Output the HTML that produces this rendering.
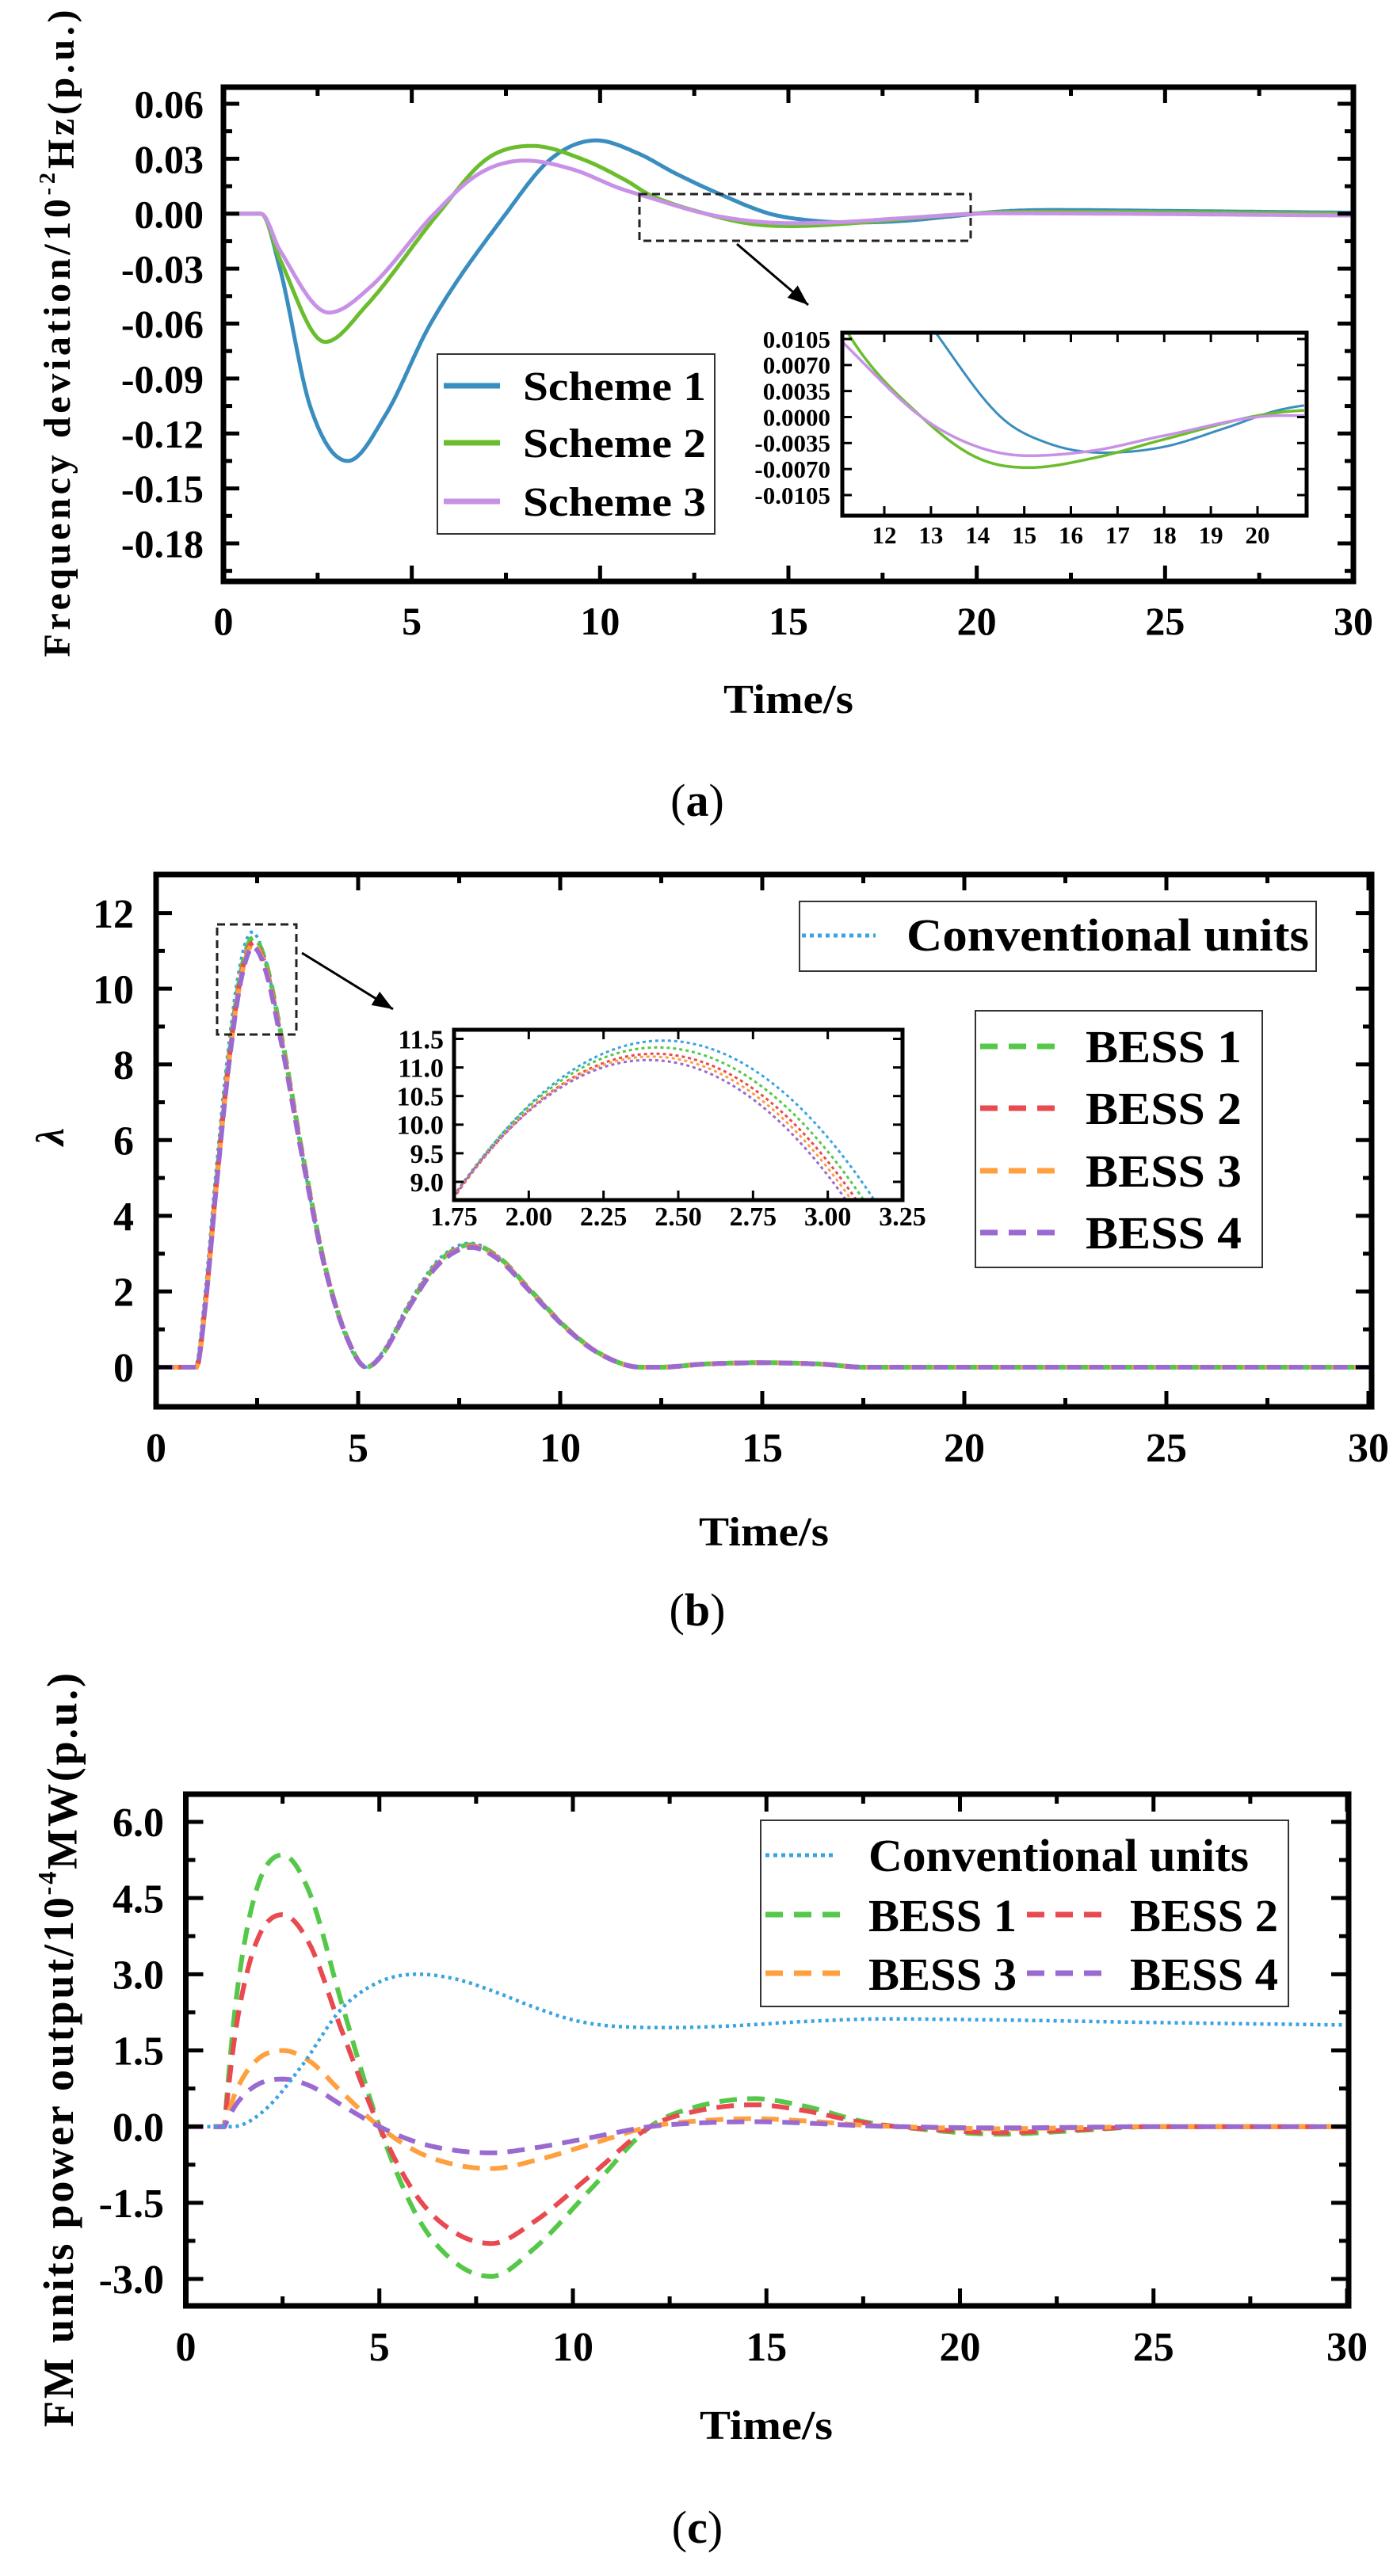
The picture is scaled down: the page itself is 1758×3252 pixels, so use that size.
<!DOCTYPE html>
<html><head><meta charset="utf-8">
<style>
html,body{margin:0;padding:0;background:#fff;}
svg{display:block;}
text{font-family:"Liberation Serif",serif;font-weight:bold;fill:#000;}
</style></head>
<body>
<svg id="s" xmlns="http://www.w3.org/2000/svg" width="1758" height="3252" viewBox="0 0 1758 3252">
<rect width="1758" height="3252" fill="#fff"/>
</svg>
<script>
const S=document.getElementById('s');const NS='http://www.w3.org/2000/svg';
function el(tag,attrs,txt,parent){const e=document.createElementNS(NS,tag);for(const k in attrs)e.setAttribute(k,attrs[k]);if(txt!=null)e.textContent=txt;(parent||S).appendChild(e);return e;}
function mono(pts){const n=pts.length,x=pts.map(p=>p[0]),y=pts.map(p=>p[1]);const d=[],m=[];
for(let i=0;i<n-1;i++)d.push((y[i+1]-y[i])/(x[i+1]-x[i]));
m[0]=d[0];m[n-1]=d[n-2];for(let i=1;i<n-1;i++){m[i]=(d[i-1]*d[i]<=0)?0:(d[i-1]+d[i])/2;}
for(let i=0;i<n-1;i++){if(d[i]===0){m[i]=0;m[i+1]=0;continue;}const a=m[i]/d[i],b=m[i+1]/d[i],h=a*a+b*b;if(h>9){const t=3/Math.sqrt(h);m[i]=t*a*d[i];m[i+1]=t*b*d[i];}}
return function(t){if(t<=x[0])return y[0];if(t>=x[n-1])return y[n-1];let i=0;while(t>x[i+1])i++;const h=x[i+1]-x[i],s=(t-x[i])/h;const h00=2*s*s*s-3*s*s+1,h10=s*s*s-2*s*s+s,h01=-2*s*s*s+3*s*s,h11=s*s*s-s*s;return h00*y[i]+h10*h*m[i]+h01*y[i+1]+h11*h*m[i+1];};}
function mk(x0,px0,x1,px1){const k=(px1-px0)/(x1-x0);return v=>px0+(v-x0)*k;}
function curve(f,t0,t1,X,Y,st,clip){let d='';const N=600;for(let i=0;i<=N;i++){const t=t0+(t1-t0)*i/N;d+=(i?'L':'M')+X(t).toFixed(1)+' '+Y(f(t)).toFixed(1);}
const a=Object.assign({d:d,fill:'none','stroke-linejoin':'round'},st);if(clip)a['clip-path']='url(#'+clip+')';el('path',a);}
const defs=el('defs',{});
function clipRect(id,x,y,w,h){const c=el('clipPath',{id:id},null,defs);el('rect',{x:x,y:y,width:w,height:h},null,c);}
function axes(o){const {L,R,T,B,X,Y,xt,xm,yt,ym,maj,mino,sw,tw,fs,ylx,ylfmt,xlb}=o;
el('rect',{x:L,y:T,width:R-L,height:B-T,fill:'none',stroke:'#000','stroke-width':sw});
xt.forEach(v=>{const x=X(v);el('line',{x1:x,y1:B,x2:x,y2:B-maj,stroke:'#000','stroke-width':tw});el('line',{x1:x,y1:T,x2:x,y2:T+maj,stroke:'#000','stroke-width':tw});el('text',{x:x,y:xlb,'text-anchor':'middle','font-size':fs},o.xfmt?o.xfmt(v):String(v));});
xm.forEach(v=>{const x=X(v);el('line',{x1:x,y1:B,x2:x,y2:B-mino,stroke:'#000','stroke-width':tw});el('line',{x1:x,y1:T,x2:x,y2:T+mino,stroke:'#000','stroke-width':tw});});
yt.forEach(v=>{const y=Y(v);el('line',{x1:L,y1:y,x2:L+maj,y2:y,stroke:'#000','stroke-width':tw});el('line',{x1:R,y1:y,x2:R-maj,y2:y,stroke:'#000','stroke-width':tw});el('text',{x:ylx,y:y+fs*0.35,'text-anchor':'end','font-size':fs},ylfmt(v));});
ym.forEach(v=>{const y=Y(v);el('line',{x1:L,y1:y,x2:L+mino,y2:y,stroke:'#000','stroke-width':tw});el('line',{x1:R,y1:y,x2:R-mino,y2:y,stroke:'#000','stroke-width':tw});});}
function rng(a,b,s){const r=[];for(let v=a;v<=b+1e-9;v+=s)r.push(+v.toFixed(6));return r;}
function fmtN(v,d){const s=Math.abs(v).toFixed(d);return (v<-1e-9?'-':'')+s;}
function ylabel(cx,cy,parts,len,fs){const t=el('text',{transform:`translate(${cx},${cy}) rotate(-90)`,'text-anchor':'middle','font-size':fs,textLength:len,lengthAdjust:'spacing'});
parts.forEach(p=>{const ts=el('tspan',p[1]?{'font-size':fs*0.6,dy:-fs*0.4}:{dy:p[2]||0},p[0],t);});}
function arrow(x1,y1,x2,y2){el('line',{x1:x1,y1:y1,x2:x2,y2:y2,stroke:'#000','stroke-width':3});const a=Math.atan2(y2-y1,x2-x1),l=26,w=10;
const p=[[x2,y2],[x2-l*Math.cos(a)+w*Math.sin(a),y2-l*Math.sin(a)-w*Math.cos(a)],[x2-l*Math.cos(a)-w*Math.sin(a),y2-l*Math.sin(a)+w*Math.cos(a)]];el('polygon',{points:p.map(q=>q.join(',')).join(' '),fill:'#000'});}
function panelLabel(x,y,l){const t=el('text',{x:x,y:y,'text-anchor':'middle','font-size':58,'font-weight':'normal'});el('tspan',{'font-weight':'normal'},'(',t);el('tspan',{'font-weight':'bold'},l,t);el('tspan',{'font-weight':'normal'},')',t);}

/* ================= Panel A ================= */
(function(){const L=282,R=1708,T=110,B=734;const X=mk(0,282,30,1708),Y=mk(0.06,131,-0.18,686);
clipRect('ca',L,T,R-L,B-T);
const s1=mono([[0,0],[1,0],[1.5,-0.03],[2.3,-0.105],[3.3,-0.135],[4.3,-0.11],[5.5,-0.06],[7.5,0],[8.7,0.03],[9.9,0.04],[11,0.033],[12,0.022],[13.2,0.0105],[14.5,0],[15.5,-0.0035],[16.7,-0.0048],[18,-0.004],[19.3,-0.0015],[20.5,0.001],[22,0.002],[25,0.0015],[30,0.0005]]);
const s2=mono([[0,0],[1,0],[1.5,-0.025],[2.7,-0.07],[3.8,-0.05],[5.7,0],[7,0.03],[8.2,0.037],[9.5,0.03],[10.7,0.018],[11.3,0.0105],[12.8,0],[14,-0.0055],[15.1,-0.0068],[16.5,-0.0055],[18,-0.003],[20.3,0.0005],[22,0.001],[30,0]]);
const s3=mono([[0,0],[1,0],[1.5,-0.02],[2.8,-0.054],[3.9,-0.04],[5.6,0],[6.8,0.022],[8,0.029],[9.3,0.024],[10.5,0.014],[11.2,0.0095],[12.8,0],[14,-0.004],[15.1,-0.0052],[16.5,-0.0045],[18,-0.0025],[20.5,0.0002],[30,-0.001]]);
const C1='#3a8dbf',C2='#6bbd2e',C3='#c792e6';
curve(s1,0,30,X,Y,{stroke:C1,'stroke-width':5},'ca');
curve(s2,0,30,X,Y,{stroke:C2,'stroke-width':5},'ca');
curve(s3,0,30,X,Y,{stroke:C3,'stroke-width':5},'ca');
axes({L,R,T,B,X,Y,xt:rng(0,30,5),xm:rng(2.5,27.5,5),yt:rng(-0.18,0.06,0.03),ym:rng(-0.195,0.05,0.03).filter(v=>Y(v)>T+5&&Y(v)<B-5),maj:20,mino:11,sw:7,tw:5,fs:50,ylx:257,ylfmt:v=>fmtN(v,2),xlb:801});
el('text',{x:995,y:900,'text-anchor':'middle','font-size':52,textLength:164,lengthAdjust:'spacingAndGlyphs'},'Time/s');
ylabel(88,421,[['Frequency deviation/10'],['-2',1],['Hz(p.u.)',0,24]],817,48);
// legend
el('rect',{x:552,y:447,width:350,height:227,fill:'#fff',stroke:'#333','stroke-width':2});
[[C1,'Scheme 1',487],[C2,'Scheme 2',559],[C3,'Scheme 3',633]].forEach(e=>{el('line',{x1:560,y1:e[2],x2:631,y2:e[2],stroke:e[0],'stroke-width':7});el('text',{x:660,y:e[2]+18,'font-size':52,textLength:231,lengthAdjust:'spacingAndGlyphs'},e[1]);});
// dashed rect + arrow
el('rect',{x:807,y:245,width:418,height:59,fill:'none',stroke:'#222','stroke-width':3,'stroke-dasharray':'10 6'});
arrow(930,308,1020,385);
// inset
const iL=1063,iR=1649,iT=420,iB=651;const IX=mk(12,1116,20,1587),IY=mk(0.0105,428,-0.0105,625);
clipRect('cai',iL,iT,iR-iL,iB-iT);
el('rect',{x:iL,y:iT,width:iR-iL,height:iB-iT,fill:'#fff'});
curve(s1,11,21,IX,IY,{stroke:C1,'stroke-width':3},'cai');
curve(s2,11,21,IX,IY,{stroke:C2,'stroke-width':3.5},'cai');
curve(s3,11,21,IX,IY,{stroke:C3,'stroke-width':3.5},'cai');
axes({L:iL,R:iR,T:iT,B:iB,X:IX,Y:IY,xt:rng(12,20,1),xm:[],yt:rng(-0.0105,0.0105,0.0035),ym:[],maj:12,mino:6,sw:5,tw:3,fs:31,ylx:1048,ylfmt:v=>fmtN(v,4),xlb:686});
panelLabel(880,1030,'a');
})();

/* ================= Panel B ================= */
(function(){const L=197,R=1731,T=1104,B=1776;const X=mk(0,197,30,1727),Y=mk(12,1152.6,0,1726);
clipRect('cb',L,T,R-L,B-T);
const base=[[0,0],[1,0],[1.2,1.5],[1.5,5],[1.8,8.2],[2.1,10.5],[2.4,11.4],[2.7,10.8],[3.1,8.8],[3.6,5.8],[4.2,2.6],[4.8,0.6],[5.2,0],[5.6,0.35],[6.3,1.7],[7,2.8],[7.8,3.25],[8.5,2.9],[9.3,2],[10.2,1],[11,0.35],[12,0],[12.5,0],[13.5,0.08],[15,0.12],[16.5,0.08],[17.5,0],[30,0]];
const ser=[['#3aa3e0',11.5,'dot','Conventional units'],['#55c84a',11.35,'dash','BESS 1'],['#e84a50',11.22,'dash','BESS 2'],['#ffa040',11.17,'dash','BESS 3'],['#9a6ad0',11.1,'dash','BESS 4']];
ser.forEach((s,i)=>{const f=mono(base.map(p=>[p[0]-(i==0?0.03:0),p[1]*s[1]/11.4]));
curve(f,0,30,X,Y,{stroke:s[0],'stroke-width':s[2]=='dot'?4:6,'stroke-dasharray':s[2]=='dot'?'4 5':'18 10','stroke-dashoffset':i*6},'cb');});
axes({L,R,T,B,X,Y,xt:rng(0,30,5),xm:rng(2.5,27.5,5),yt:rng(0,12,2),ym:rng(-1,13,2).filter(v=>Y(v)>T+5&&Y(v)<B-5),maj:20,mino:11,sw:7,tw:5,fs:52,ylx:169,ylfmt:v=>String(v),xlb:1845});
el('text',{x:964,y:1951,'text-anchor':'middle','font-size':52,textLength:164,lengthAdjust:'spacingAndGlyphs'},'Time/s');
el('text',{transform:'translate(80,1435) rotate(-90)','text-anchor':'middle','font-size':50,'font-style':'italic','font-weight':'normal'},'λ');
// legends
el('rect',{x:1009,y:1138,width:652,height:88,fill:'#fff',stroke:'#333','stroke-width':2});
el('line',{x1:1012,y1:1181,x2:1105,y2:1181,stroke:ser[0][0],'stroke-width':5,'stroke-dasharray':'5 5'});
el('text',{x:1144,y:1200,'font-size':58,textLength:508,lengthAdjust:'spacingAndGlyphs'},'Conventional units');
el('rect',{x:1231,y:1276,width:362,height:324,fill:'#fff',stroke:'#333','stroke-width':2});
[1321,1399,1478,1556].forEach((y,i)=>{const s=ser[i+1];el('line',{x1:1237,y1:y,x2:1338,y2:y,stroke:s[0],'stroke-width':7,'stroke-dasharray':'22 14'});el('text',{x:1370,y:y+20,'font-size':58,textLength:197,lengthAdjust:'spacingAndGlyphs'},s[3]);});
el('rect',{x:274,y:1167,width:100,height:139,fill:'none',stroke:'#222','stroke-width':3,'stroke-dasharray':'10 6'});
arrow(381,1203,496,1274);
// inset
const iL=573,iR=1139,iT=1300,iB=1515;const IX=mk(1.75,573,3.25,1139),IY=mk(11.5,1311.5,9.0,1492);
clipRect('cbi',iL,iT,iR-iL,iB-iT);
el('rect',{x:iL,y:iT,width:iR-iL,height:iB-iT,fill:'#fff'});
[[ser[0][0],11.47,2.45],[ser[1][0],11.35,2.43],[ser[2][0],11.24,2.42],[ser[3][0],11.19,2.41],[ser[4][0],11.13,2.40]].forEach(s=>{const f=t=>s[1]-5.6*(t-s[2])*(t-s[2]);curve(f,1.7,3.3,IX,IY,{stroke:s[0],'stroke-width':3,'stroke-dasharray':'4 4'},'cbi');});
axes({L:iL,R:iR,T:iT,B:iB,X:IX,Y:IY,xt:rng(1.75,3.25,0.25),xm:[],yt:rng(9,11.5,0.5),ym:[],maj:12,mino:6,sw:5,tw:3,fs:34,ylx:560,ylfmt:v=>v.toFixed(1),xlb:1547,xfmt:v=>v.toFixed(2)});
panelLabel(880,2052,'b');
})();

/* ================= Panel C ================= */
(function(){const L=234.5,R=1702,T=2265,B=2911;const X=mk(0,234.5,30,1700),Y=mk(6,2300,-3,2877);
clipRect('cc',L,T,R-L,B-T);
const conv=mono([[0,0],[1.2,0],[2,0.3],[3,1.2],[4,2.3],[5,2.85],[6,3.0],[7,2.9],[8,2.65],[9,2.35],[10,2.1],[11,1.98],[12.5,1.95],[14,1.98],[16,2.07],[18,2.12],[21,2.1],[25,2.05],[30,2.0]]);
const b1=[[0,0],[1,0],[1.05,0.5],[1.3,2.5],[1.8,4.6],[2.5,5.35],[3.2,4.6],[4,2.5],[5,0],[6,-1.8],[7,-2.7],[7.9,-2.95],[9,-2.4],[10.5,-1.2],[12,0],[13,0.35],[14.7,0.55],[16,0.4],[17.5,0.1],[19,-0.05],[21,-0.15],[23,-0.08],[25,0],[30,0]];
const ser=[['#55c84a',1,'BESS 1'],['#e84a50',0.78,'BESS 2'],['#ffa040',0.28,'BESS 3'],['#9a6ad0',0.175,'BESS 4']];
ser.forEach(s=>{const f=mono(b1.map(p=>[p[0],p[1]*s[1]]));curve(f,0,30,X,Y,{stroke:s[0],'stroke-width':6,'stroke-dasharray':'22 13'},'cc');});
curve(conv,0,30,X,Y,{stroke:'#3aa3e0','stroke-width':4.5,'stroke-dasharray':'4 5'},'cc');
axes({L,R,T,B,X,Y,xt:rng(0,30,5),xm:rng(2.5,27.5,5),yt:rng(-3,6,1.5),ym:rng(-3.75,6.75,1.5).filter(v=>Y(v)>T+5&&Y(v)<B-5),maj:22,mino:12,sw:7,tw:5,fs:52,ylx:207,ylfmt:v=>v.toFixed(1),xlb:2980});
el('text',{x:967,y:3079,'text-anchor':'middle','font-size':52,textLength:168,lengthAdjust:'spacingAndGlyphs'},'Time/s');
ylabel(92,2588,[['FM units power output/10'],['-4',1],['MW(p.u.)',0,26]],952,54);
el('rect',{x:960,y:2298,width:666,height:235,fill:'#fff',stroke:'#333','stroke-width':2});
el('line',{x1:966,y1:2342,x2:1056,y2:2342,stroke:'#3aa3e0','stroke-width':5,'stroke-dasharray':'5 5'});
el('text',{x:1096,y:2362,'font-size':58,textLength:480,lengthAdjust:'spacingAndGlyphs'},'Conventional units');
[[0,966,1096,2417],[1,1296,1426,2417],[2,966,1096,2491],[3,1296,1426,2491]].forEach(e=>{const s=ser[e[0]];el('line',{x1:e[1],y1:e[3],x2:e[1]+100,y2:e[3],stroke:s[0],'stroke-width':7,'stroke-dasharray':'22 14'});el('text',{x:e[2],y:e[3]+21,'font-size':58,textLength:187,lengthAdjust:'spacingAndGlyphs'},s[2]);});
panelLabel(880,3210,'c');
})();
</script>
</body></html>
